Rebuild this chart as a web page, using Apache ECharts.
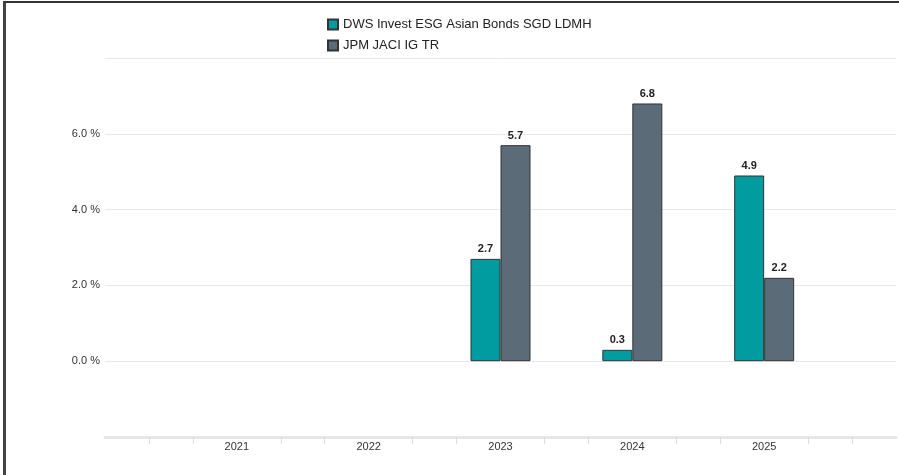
<!DOCTYPE html>
<html>
<head>
<meta charset="utf-8">
<script src="https://cdn.jsdelivr.net/npm/echarts@6/dist/echarts.min.js"></script>
<style>
html,body{margin:0;padding:0;background:#fff;}
#frame{position:absolute;left:3px;top:1px;width:896px;height:474px;border-left:3px solid #444;border-top:2px solid #333;box-sizing:border-box;}
#chart{position:absolute;left:0;top:0;width:899px;height:475px;}
</style>
</head>
<body>
<div id="frame"></div>
<div id="chart"></div>
<script>
const years = [2021, 2022, 2023, 2024, 2025];
const fundName = 'DWS Invest ESG Asian Bonds SGD LDMH';
const benchName = 'JPM JACI IG TR';
const fundValues = [null, null, 2.7, 0.3, 4.9];
const benchValues = [null, null, 5.7, 6.8, 2.2];
const yTicks = [0, 2, 4, 6];

const chart = echarts.init(document.getElementById('chart'));
const font = 'Liberation Sans, Arial, sans-serif';
function pairs(vals){ return years.map((y,i)=>[y, vals[i]]).filter(p=>p[1]!==null); }
const barLabel = {show:true, position:'top', distance:4, fontFamily:font, fontSize:11, fontWeight:'bold', color:'#222', formatter:p=>p.value[1].toFixed(1)};
chart.setOption({
  animation:false,
  legend:{
    orient:'vertical', left:322, top:13, itemWidth:10, itemHeight:10, itemGap:8,
    icon:'rect',
    textStyle:{fontFamily:font, fontSize:13, color:'#222'},
    data:[fundName, benchName]
  },
  grid:{left:105, right:3, top:58, bottom:38},
  xAxis:{
    type:'value', min:2020, max:2026, interval:1,
    axisLine:{show:true, onZero:false, lineStyle:{color:'#e6e6e6', width:3}},
    axisTick:{show:false},
    minorTick:{show:true, splitNumber:3, length:7, lineStyle:{color:'#dddddd', width:1}},
    splitLine:{show:false},
    axisLabel:{fontFamily:font, fontSize:11, color:'#333', margin:4,
      formatter:v=> years.indexOf(v)>=0 ? String(v) : ''}
  },
  yAxis:{
    type:'value', min:-2, max:8, interval:2,
    axisLine:{show:false}, axisTick:{show:false},
    splitLine:{lineStyle:{color:'#e8e8e8', width:1}},
    axisLabel:{fontFamily:font, fontSize:11, color:'#333', margin:5,
      formatter:v=> yTicks.indexOf(v)>=0 ? v.toFixed(1)+' %' : ''}
  },
  series:[
    {name:fundName, type:'bar', barWidth:30, barGap:'0%', data:pairs(fundValues),
      itemStyle:{color:'#009C9F', borderColor:'#333', borderWidth:1}, label:barLabel},
    {name:benchName, type:'bar', barWidth:30, barGap:'0%', data:pairs(benchValues),
      itemStyle:{color:'#5B6B78', borderColor:'#333', borderWidth:1}, label:barLabel}
  ]
});
</script>
</body>
</html>
